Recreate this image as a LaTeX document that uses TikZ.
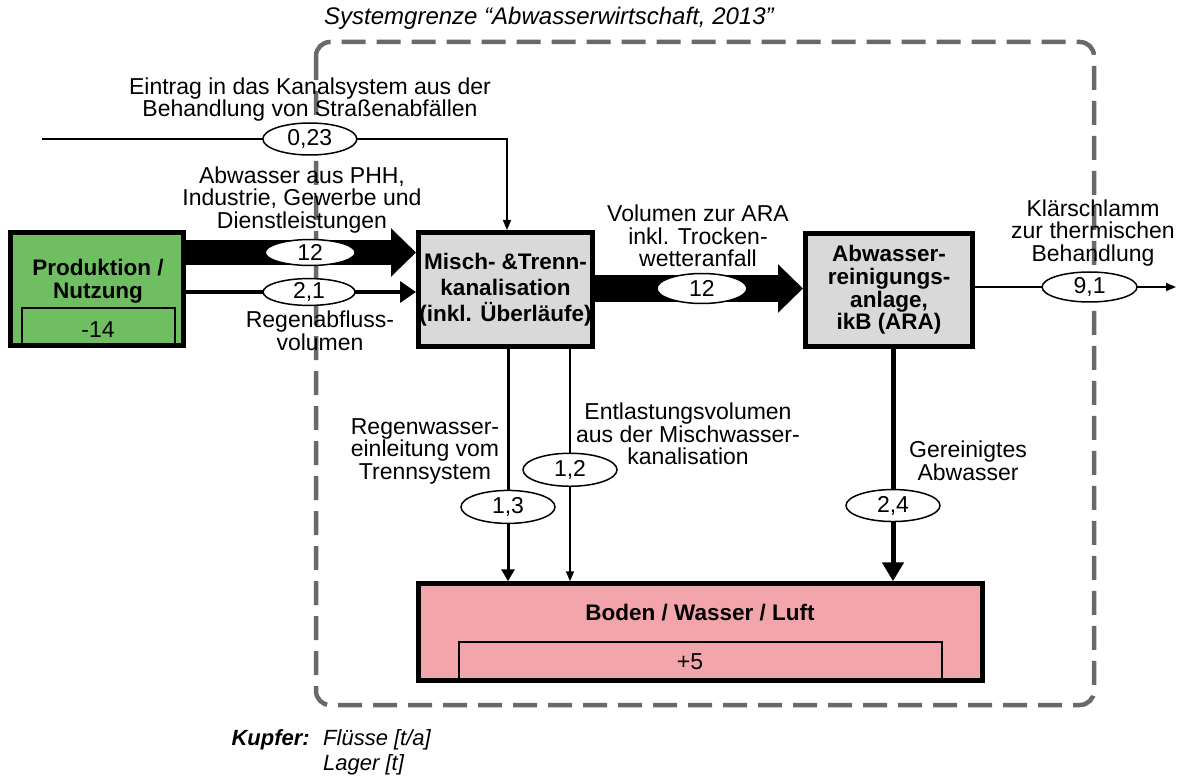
\documentclass[tikz,border=0pt]{standalone}
\usepackage{fontspec}
\setmainfont{Liberation Sans}
\usetikzlibrary{shapes.geometric,arrows.meta}

\definecolor{prodgreen}{RGB}{112,190,98}
\definecolor{procgray}{RGB}{217,217,217}
\definecolor{envpink}{RGB}{242,166,172}
\definecolor{bordergray}{RGB}{105,105,105}

\begin{document}
\begin{tikzpicture}[x=1pt,y=-1pt,
  every node/.style={font=\fontsize{23}{22.5}\selectfont, inner sep=0pt},
  process/.style={draw, line width=5pt, rectangle, fill=procgray, align=center,
    font=\fontsize{22.5}{26}\selectfont\bfseries},
  stockbox/.style={line width=1.5pt},
  value/.style={draw, ellipse, fill=white, line width=1.5pt,
    minimum width=94pt, minimum height=30pt},
  flowtext/.style={align=center},
  thinflow/.style={line width=1.5pt, -{Triangle[width=8pt,length=10pt]}},
  medflow/.style={line width=3pt, -{Triangle[width=13pt,length=12pt]}},
  rainflow/.style={line width=3.5pt, -{Triangle[width=21pt,length=16pt]}},
  cleanflow/.style={line width=5pt, -{Triangle[width=21pt,length=19pt]}},
  bigflow/.style={line width=#1, -{Triangle[width=47pt,length=25pt]}},
]
\useasboundingbox (0,0) rectangle (1184,778);

% system boundary
\draw[bordergray, line width=4.5pt, dash pattern=on 24pt off 11pt, rounded corners=14pt]
  (316,42) rectangle (1094,705);
\node[anchor=west, font=\fontsize{24}{24}\selectfont\itshape] (title) at (324,18)
  {Systemgrenze “Abwasserwirtschaft, 2013”};

% processes
\node[process, fill=prodgreen, minimum width=173pt, minimum height=113pt] (prod) at (97,289) {};
\node[font=\fontsize{22.5}{23}\selectfont\bfseries, align=center] (prodname) at (98,281.5) {Produktion /\\Nutzung};
\draw[stockbox] (22,346) -- (22,308) -- (175,308) -- (175,346);
\node (prodstock) at (98,330) {-14};

\node[process, minimum width=174pt, minimum height=114pt] (misch) at (505.5,289.5)
  {Misch- \&Trenn-\\kanalisation\\(inkl. Überläufe)};

\node[process, minimum width=167pt, minimum height=113pt,
  font=\fontsize{22.5}{22.7}\selectfont\bfseries] (ara) at (889,290)
  {Abwasser-\\reinigungs-\\anlage,\\ikB (ARA)};

\node[process, fill=envpink, line width=4.5pt, minimum width=564pt, minimum height=97pt] (boden) at (700.5,632) {};
\node[font=\fontsize{22.5}{22}\selectfont\bfseries] (bodenname) at (700,613) {Boden / Wasser / Luft};
\draw[stockbox] (459,681) -- (459,642) -- (942,642) -- (942,681);
\node (bodenstock) at (690,662) {+5};

% free ends
\coordinate (src) at (42,139);
\coordinate (sink) at (1176,287);

% flows
\draw[thinflow] (src) -| node[value, pos=0.288, minimum height=32pt] {0,23} (misch.north -| 507,0);
\draw[bigflow=25pt] (prod.east |- 0,252.5) -- node[value, pos=0.54, minimum width=90pt, minimum height=26pt] {12} (misch.west |- 0,252.5);
\draw[rainflow] (prod.east |- 0,292) -- node[value, pos=0.535, minimum width=92pt, minimum height=24pt] {2,1} (misch.west |- 0,292);
\draw[bigflow=27pt] (misch.east |- 0,288.5) -- node[value, pos=0.514, minimum width=90pt] {12} (ara.west |- 0,288.5);
\draw[thinflow] (ara.east |- 0,287) -- node[value, pos=0.57, minimum width=95pt] {9,1} (sink);
\draw[medflow] (misch.south -| 508,0) -- node[value, pos=0.68, minimum height=33pt] {1,3} (boden.north -| 508,0);
\draw[thinflow] (misch.south -| 570,0) -- node[value, pos=0.52, minimum height=33pt] {1,2} (boden.north -| 570,0);
\draw[cleanflow] (ara.south -| 893,0) -- node[value, pos=0.674, minimum height=32pt] {2,4} (boden.north -| 893,0);

% flow descriptions
\node[flowtext] (t023) at (310,99.5) {Eintrag in das Kanalsystem aus der\\Behandlung von Straßenabfällen};
\node[flowtext] (tabw) at (302,200) {Abwasser aus PHH,\\Industrie, Gewerbe und\\Dienstleistungen};
\node[flowtext] (tregen) at (320,331) {Regenabfluss-\\volumen};
\node[flowtext] (tvol) at (698,236) {Volumen zur ARA\\inkl. Trocken-\\wetteranfall};
\node[flowtext] (tkl) at (1093,233) {Klärschlamm\\zur thermischen\\Behandlung};
\node[flowtext] (trw) at (425,451) {Regenwasser-\\einleitung vom\\Trennsystem};
\node[flowtext] (tent) at (688,434) {Entlastungsvolumen\\aus der Mischwasser-\\kanalisation};
\node[flowtext] (tger) at (968,461) {Gereinigtes\\Abwasser};

% legend
\node[anchor=east, font=\fontsize{22}{22}\selectfont\bfseries\itshape] (kupfer) at (310,740) {Kupfer:};
\node[anchor=west, font=\fontsize{22}{22}\selectfont\itshape] (fluesse) at (323,740) {Flüsse [t/a]};
\node[anchor=west, font=\fontsize{22}{22}\selectfont\itshape] (lager) at (323,765) {Lager [t]};
\end{tikzpicture}
\end{document}
